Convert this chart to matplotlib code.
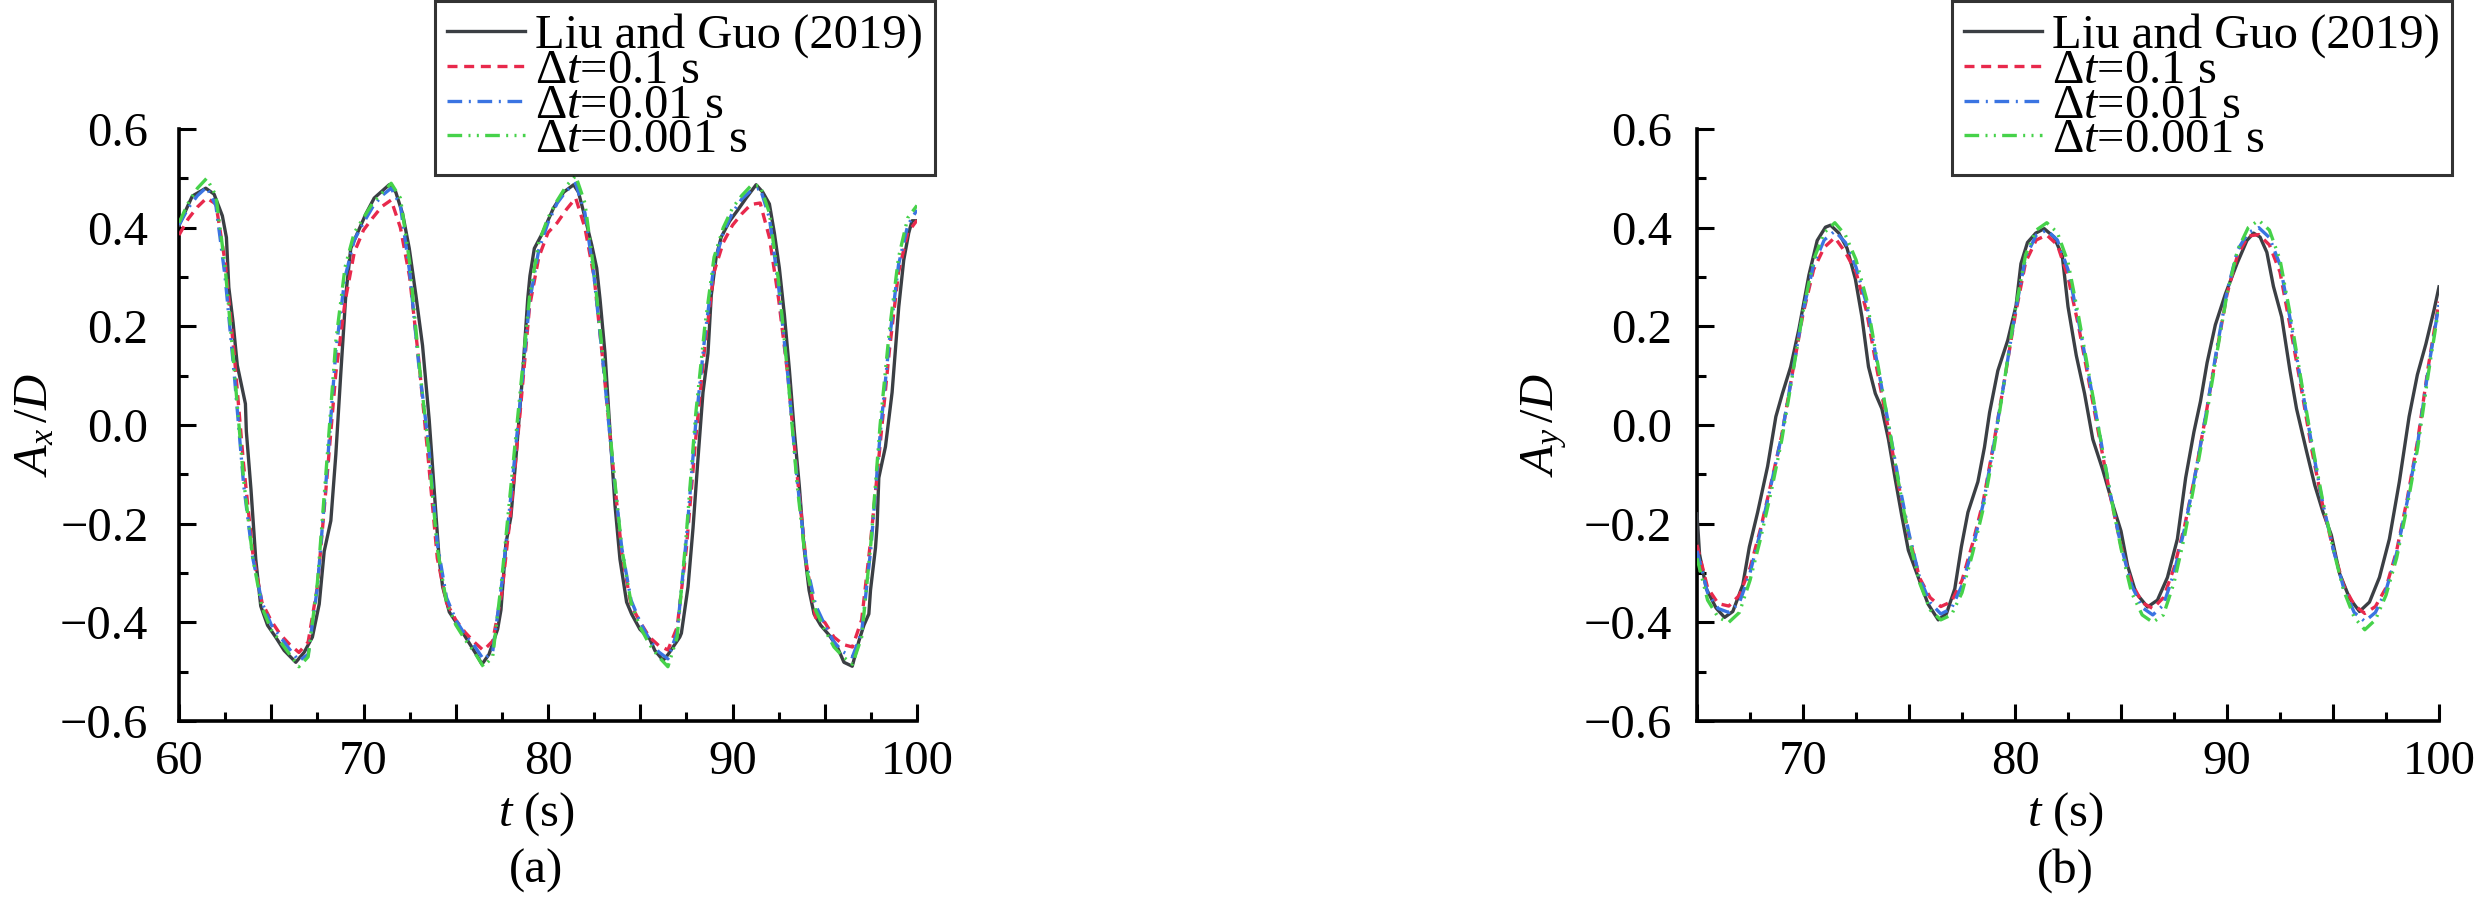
import matplotlib
matplotlib.use("Agg")
import matplotlib.pyplot as plt
from matplotlib.ticker import MultipleLocator, FuncFormatter

plt.rcParams['font.family'] = ['Liberation Serif', 'DejaVu Serif']
plt.rcParams['mathtext.fontset'] = 'custom'
plt.rcParams['mathtext.rm'] = 'Liberation Serif'
plt.rcParams['mathtext.it'] = 'Liberation Serif:italic'
plt.rcParams['axes.unicode_minus'] = True

# ---------------- data ----------------
series_labels = ["Liu and Guo (2019)", "Δ$t$=0.1 s", "Δ$t$=0.01 s", "Δ$t$=0.001 s"]
panel_labels = ["(a)", "(b)"]
ylabels = [r"$A_x\,/D$", r"$A_y\,/D$"]
xlabel = r"$t$ (s)"

# Panel (a): Ax/D, reference (Liu and Guo 2019)
ax_ref_t = [60.0, 60.72, 61.45, 61.9, 62.35, 62.57, 62.7, 62.93, 63.16, 63.6, 63.65, 63.9, 64.16, 64.43,
            64.8, 65.24, 65.7, 66.33, 66.78, 67.23, 67.6, 67.87, 68.23, 68.5, 68.77, 69.04, 69.31, 69.67,
            70.13, 70.58, 70.94, 71.39, 71.75, 72.12, 72.48, 72.84, 73.2, 73.56, 73.83, 74.1, 74.29, 74.65,
            75.2, 75.73, 76.18, 76.42, 76.8, 77.27, 77.45, 77.72, 77.99, 78.26, 78.63, 78.9, 79.02, 79.26,
            79.7, 80.3, 80.85, 81.39, 81.65, 82.01, 82.37, 82.64, 82.82, 83.09, 83.36, 83.63, 83.9, 84.26,
            84.53, 84.98, 85.52, 85.79, 86.24, 86.51, 87.14, 87.23, 87.59, 87.86, 88.13, 88.4, 88.67, 88.85,
            89.12, 89.39, 89.84, 90.29, 90.74, 91.28, 91.64, 92.0, 92.27, 92.54, 92.81, 93.08, 93.35, 93.62,
            93.88, 94.15, 94.42, 94.78, 95.24, 95.68, 96.04, 96.49, 96.85, 97.12, 97.39, 97.48, 97.75, 97.84,
            97.93, 98.02, 98.29, 98.65, 99.01, 99.28, 99.55, 99.73, 100.0]
ax_ref_v = [0.405, 0.464, 0.48, 0.468, 0.424, 0.38, 0.279, 0.208, 0.121, 0.043, -0.013, -0.13, -0.272, -0.367,
            -0.406, -0.43, -0.457, -0.481, -0.461, -0.43, -0.363, -0.256, -0.194, -0.06, 0.105, 0.263, 0.358, 0.389,
            0.428, 0.46, 0.472, 0.487, 0.472, 0.428, 0.358, 0.263, 0.161, 0.011, -0.131, -0.272, -0.328, -0.379,
            -0.41, -0.442, -0.469, -0.485, -0.465, -0.414, -0.375, -0.24, -0.186, -0.068, 0.105, 0.255, 0.302, 0.358,
            0.389, 0.44, 0.472, 0.487, 0.472, 0.42, 0.365, 0.318, 0.255, 0.145, -0.013, -0.162, -0.272, -0.359,
            -0.383, -0.414, -0.434, -0.457, -0.477, -0.465, -0.43, -0.422, -0.328, -0.209, -0.068, 0.066, 0.145, 0.263,
            0.342, 0.381, 0.413, 0.436, 0.46, 0.487, 0.472, 0.448, 0.389, 0.318, 0.224, 0.113, -0.013, -0.123,
            -0.249, -0.335, -0.383, -0.406, -0.426, -0.45, -0.481, -0.489, -0.438, -0.406, -0.383, -0.335, -0.249, -0.202,
            -0.107, -0.091, -0.044, 0.066, 0.239, 0.334, 0.389, 0.414, 0.414]

# Panel (a) simulations, sampled every 0.5 s from 60 to 100
ax_sim_t = [60.0, 60.5, 61.0, 61.5, 62.0, 62.5, 63.0, 63.5, 64.0, 64.5, 65.0, 65.5, 66.0, 66.5, 67.0, 67.5,
            68.0, 68.5, 69.0, 69.5, 70.0, 70.5, 71.0, 71.5, 72.0, 72.5, 73.0, 73.5, 74.0, 74.5, 75.0, 75.5,
            76.0, 76.5, 77.0, 77.5, 78.0, 78.5, 79.0, 79.5, 80.0, 80.5, 81.0, 81.5, 82.0, 82.5, 83.0, 83.5,
            84.0, 84.5, 85.0, 85.5, 86.0, 86.5, 87.0, 87.5, 88.0, 88.5, 89.0, 89.5, 90.0, 90.5, 91.0, 91.5,
            92.0, 92.5, 93.0, 93.5, 94.0, 94.5, 95.0, 95.5, 96.0, 96.5, 97.0, 97.5, 98.0, 98.5, 99.0, 99.5, 100.0]
ax_dt01 = [0.385, 0.418, 0.442, 0.46, 0.448, 0.33, 0.14, -0.08, -0.26, -0.36, -0.397, -0.425, -0.445, -0.461, -0.44, -0.328,
           -0.115, 0.105, 0.25, 0.35, 0.395, 0.42, 0.443, 0.456, 0.40, 0.30, 0.13, -0.065, -0.27, -0.36, -0.395, -0.42,
           -0.44, -0.457, -0.438, -0.34, -0.17, 0.03, 0.24, 0.34, 0.39, 0.41, 0.437, 0.46, 0.40, 0.30, 0.12, -0.075,
           -0.26, -0.365, -0.40, -0.43, -0.447, -0.456, -0.41, -0.25, -0.03, 0.16, 0.31, 0.37, 0.405, 0.428, 0.447, 0.45,
           0.38, 0.255, 0.10, -0.10, -0.28, -0.39, -0.40, -0.43, -0.445, -0.45, -0.395, -0.23, -0.04, 0.15, 0.31, 0.39, 0.415]
ax_dt001 = [0.405, 0.44, 0.465, 0.482, 0.445, 0.30, 0.10, -0.12, -0.27, -0.36, -0.405, -0.43, -0.455, -0.478, -0.465, -0.33,
            -0.10, 0.15, 0.30, 0.375, 0.41, 0.442, 0.465, 0.48, 0.445, 0.31, 0.12, -0.03, -0.24, -0.35, -0.395, -0.425,
            -0.447, -0.475, -0.46, -0.32, -0.14, 0.05, 0.25, 0.355, 0.41, 0.45, 0.475, 0.49, 0.43, 0.30, 0.12, -0.08,
            -0.25, -0.355, -0.40, -0.435, -0.46, -0.474, -0.42, -0.23, 0.0, 0.18, 0.325, 0.39, 0.43, 0.458, 0.475, 0.48,
            0.42, 0.28, 0.10, -0.11, -0.28, -0.365, -0.405, -0.44, -0.46, -0.47, -0.42, -0.25, -0.02, 0.17, 0.325, 0.405, 0.436]
ax_dt0001 = [0.41, 0.45, 0.48, 0.50, 0.465, 0.32, 0.11, -0.11, -0.27, -0.37, -0.415, -0.44, -0.465, -0.49, -0.47, -0.32,
             -0.08, 0.17, 0.32, 0.39, 0.42, 0.45, 0.47, 0.49, 0.46, 0.33, 0.13, -0.04, -0.25, -0.36, -0.405, -0.435,
             -0.46, -0.49, -0.47, -0.31, -0.12, 0.07, 0.26, 0.37, 0.42, 0.455, 0.485, 0.505, 0.45, 0.31, 0.13, -0.07,
             -0.25, -0.36, -0.41, -0.445, -0.47, -0.49, -0.43, -0.22, 0.02, 0.20, 0.34, 0.40, 0.44, 0.465, 0.485, 0.485,
             0.43, 0.29, 0.10, -0.12, -0.29, -0.375, -0.415, -0.45, -0.47, -0.485, -0.43, -0.24, 0.0, 0.19, 0.34, 0.42, 0.445]

# Panel (b): Ay/D, reference
ay_ref_t = [65.0, 65.12, 65.44, 65.9, 66.3, 66.69, 67.16, 67.47, 67.86, 68.33, 68.72, 69.03, 69.42, 69.81,
            70.28, 70.67, 71.06, 71.3, 71.69, 72.08, 72.47, 72.78, 73.09, 73.41, 73.72, 74.03, 74.34, 74.66,
            74.97, 75.44, 75.9, 76.38, 76.77, 77.16, 77.47, 77.78, 78.25, 78.56, 78.8, 79.19, 79.66, 80.05,
            80.28, 80.59, 80.98, 81.38, 81.84, 82.23, 82.5, 82.89, 83.28, 83.67, 84.14, 84.61, 85.0, 85.31,
            85.7, 86.25, 86.72, 87.19, 87.66, 88.05, 88.44, 88.75, 89.06, 89.45, 89.92, 90.47, 90.94, 91.25,
            91.56, 91.88, 92.19, 92.58, 92.97, 93.28, 93.75, 94.14, 94.53, 94.92, 95.31, 95.78, 96.25, 96.72,
            97.19, 97.66, 98.13, 98.59, 98.98, 99.38, 99.77, 100.0]
ay_ref_v = [-0.18, -0.262, -0.332, -0.371, -0.39, -0.378, -0.324, -0.247, -0.177, -0.084, 0.017, 0.064, 0.118, 0.195,
            0.304, 0.374, 0.401, 0.405, 0.389, 0.358, 0.296, 0.219, 0.118, 0.064, 0.033, -0.029, -0.107, -0.184,
            -0.254, -0.309, -0.363, -0.395, -0.382, -0.332, -0.247, -0.177, -0.115, -0.045, 0.025, 0.11, 0.172, 0.242,
            0.327, 0.37, 0.389, 0.398, 0.381, 0.343, 0.24, 0.141, 0.064, -0.029, -0.091, -0.161, -0.215, -0.285,
            -0.34, -0.369, -0.355, -0.309, -0.231, -0.107, -0.014, 0.048, 0.126, 0.203, 0.265, 0.327, 0.374, 0.389,
            0.381, 0.35, 0.281, 0.219, 0.11, 0.033, -0.053, -0.122, -0.177, -0.223, -0.301, -0.351, -0.378, -0.359,
            -0.309, -0.231, -0.115, 0.017, 0.102, 0.164, 0.234, 0.28]

# Panel (b) simulations, sampled every 0.5 s from 65 to 100
ay_sim_t = [65.0, 65.5, 66.0, 66.5, 67.0, 67.5, 68.0, 68.5, 69.0, 69.5, 70.0, 70.5, 71.0, 71.5, 72.0, 72.5,
            73.0, 73.5, 74.0, 74.5, 75.0, 75.5, 76.0, 76.5, 77.0, 77.5, 78.0, 78.5, 79.0, 79.5, 80.0, 80.5,
            81.0, 81.5, 82.0, 82.5, 83.0, 83.5, 84.0, 84.5, 85.0, 85.5, 86.0, 86.5, 87.0, 87.5, 88.0, 88.5,
            89.0, 89.5, 90.0, 90.5, 91.0, 91.5, 92.0, 92.5, 93.0, 93.5, 94.0, 94.5, 95.0, 95.5, 96.0, 96.5,
            97.0, 97.5, 98.0, 98.5, 99.0, 99.5, 100.0]
ay_dt01 = [-0.243, -0.33, -0.362, -0.367, -0.345, -0.29, -0.21, -0.117, -0.02, 0.105, 0.225, 0.315, 0.36, 0.38, 0.35, 0.31,
           0.23, 0.11, -0.002, -0.12, -0.225, -0.31, -0.35, -0.368, -0.358, -0.315, -0.24, -0.155, -0.036, 0.09, 0.22, 0.33,
           0.375, 0.385, 0.365, 0.30, 0.20, 0.085, -0.03, -0.145, -0.245, -0.32, -0.36, -0.372, -0.35, -0.29, -0.205, -0.10,
           0.02, 0.145, 0.265, 0.345, 0.383, 0.386, 0.365, 0.31, 0.195, 0.075, -0.05, -0.16, -0.25, -0.325, -0.365, -0.382,
           -0.368, -0.33, -0.255, -0.15, -0.03, 0.12, 0.25]
ay_dt001 = [-0.255, -0.34, -0.372, -0.38, -0.36, -0.30, -0.215, -0.12, -0.02, 0.105, 0.23, 0.325, 0.375, 0.393, 0.37, 0.32,
            0.245, 0.125, 0.01, -0.11, -0.22, -0.31, -0.36, -0.383, -0.372, -0.325, -0.25, -0.16, -0.04, 0.09, 0.225, 0.34,
            0.385, 0.395, 0.375, 0.315, 0.21, 0.095, -0.02, -0.14, -0.245, -0.325, -0.37, -0.385, -0.365, -0.30, -0.21, -0.10,
            0.02, 0.15, 0.27, 0.355, 0.39, 0.40, 0.38, 0.325, 0.21, 0.085, -0.04, -0.155, -0.25, -0.33, -0.38, -0.398,
            -0.38, -0.335, -0.26, -0.155, -0.035, 0.115, 0.245]
ay_dt0001 = [-0.27, -0.355, -0.39, -0.40, -0.38, -0.315, -0.23, -0.135, -0.03, 0.10, 0.23, 0.335, 0.39, 0.41, 0.385, 0.335,
             0.255, 0.13, 0.01, -0.115, -0.23, -0.32, -0.375, -0.395, -0.385, -0.34, -0.26, -0.17, -0.05, 0.09, 0.23, 0.345,
             0.395, 0.41, 0.39, 0.33, 0.22, 0.10, -0.02, -0.14, -0.25, -0.34, -0.385, -0.40, -0.385, -0.32, -0.225, -0.11,
             0.01, 0.14, 0.265, 0.355, 0.40, 0.415, 0.395, 0.335, 0.22, 0.09, -0.035, -0.15, -0.25, -0.335, -0.39, -0.415,
             -0.395, -0.345, -0.27, -0.165, -0.045, 0.105, 0.24]

# ---------------- styling ----------------
colors = ["#3b3f44", "#e8294c", "#3a74e2", "#46d24a"]
LW = 2.4
styles = ["-", (0, (3.0, 2.0)), (0, (4.4, 2.0, 0.6, 2.0)), (0, (4.4, 1.9, 0.6, 1.9, 0.6, 1.9))]
FS = 35

W, H = 2481, 897
fig = plt.figure(figsize=(W / 100, H / 100), dpi=100)

def fx(px):
    return px / W

def fy(py):
    return 1 - py / H

panels = [
    dict(pos=(179, 917), xlim=(60, 100), ref=(ax_ref_t, ax_ref_v), simt=ax_sim_t,
         sims=[ax_dt01, ax_dt001, ax_dt0001], ylab=ylabels[0], tag=panel_labels[0],
         leg_right=935, ylab_x=-0.195, ypad=22, lab_x=0.484),
    dict(pos=(1697, 2439), xlim=(65, 100), ref=(ay_ref_t, ay_ref_v), simt=ay_sim_t,
         sims=[ay_dt01, ay_dt001, ay_dt0001], ylab=ylabels[1], tag=panel_labels[1],
         leg_right=2452, ylab_x=-0.206, ypad=18, lab_x=0.497),
]

top_px, bot_px = 129, 721

def yfmt(v, pos):
    s = "%.1f" % v
    if s == "-0.0":
        s = "0.0"
    return s.replace("-", "\u2212")

def xfmt(v, pos):
    if abs(v / 10 - round(v / 10)) < 1e-6:
        return "%d" % round(v)
    return ""

for p in panels:
    x0, x1 = p["pos"]
    ax = fig.add_axes([fx(x0), fy(bot_px), fx(x1 - x0), (bot_px - top_px) / H])
    lines = []
    l, = ax.plot(p["ref"][0], p["ref"][1], color=colors[0], lw=LW, linestyle=styles[0], zorder=3)
    lines.append(l)
    for i, s in enumerate(p["sims"]):
        l, = ax.plot(p["simt"], s, color=colors[i + 1], lw=LW, linestyle=styles[i + 1], zorder=4 + i)
        lines.append(l)
    ax.set_xlim(*p["xlim"])
    ax.set_ylim(-0.6, 0.6)
    for sp in ["top", "right"]:
        ax.spines[sp].set_visible(False)
    for sp in ["left", "bottom"]:
        ax.spines[sp].set_linewidth(2.6)
    ax.xaxis.set_major_locator(MultipleLocator(5))
    ax.xaxis.set_minor_locator(MultipleLocator(2.5))
    ax.yaxis.set_major_locator(MultipleLocator(0.2))
    ax.yaxis.set_minor_locator(MultipleLocator(0.1))
    ax.yaxis.set_major_formatter(FuncFormatter(yfmt))
    ax.xaxis.set_major_formatter(FuncFormatter(xfmt))
    ax.tick_params(which="major", direction="in", length=12.5, width=2.2, labelsize=FS)
    ax.tick_params(which="minor", direction="in", length=6.5, width=2.2)
    ax.tick_params(axis="y", which="major", pad=p["ypad"])
    ax.tick_params(axis="x", which="major", pad=14)
    ax.set_ylabel(p["ylab"], fontsize=FS, va="center")
    ax.yaxis.set_label_coords(p["ylab_x"], 0.5)
    ax.text(p["lab_x"], -0.157, xlabel, transform=ax.transAxes, ha="center", va="center", fontsize=FS)
    ax.text(p["lab_x"], -0.253, p["tag"], transform=ax.transAxes, ha="center", va="center", fontsize=FS)
    ax.patch.set_alpha(0)
    leg = fig.legend(lines, series_labels, loc="upper right",
                     bbox_to_anchor=(fx(p["leg_right"]), fy(1)), bbox_transform=fig.transFigure,
                     fontsize=FS, frameon=True, fancybox=False, edgecolor="black",
                     handlelength=1.6, handletextpad=0.2, borderpad=0.25, labelspacing=-0.19,
                     borderaxespad=0)
    leg.get_frame().set_linewidth(2.2)
    leg.set_zorder(10)

fig.savefig("out.png", dpi=100)
